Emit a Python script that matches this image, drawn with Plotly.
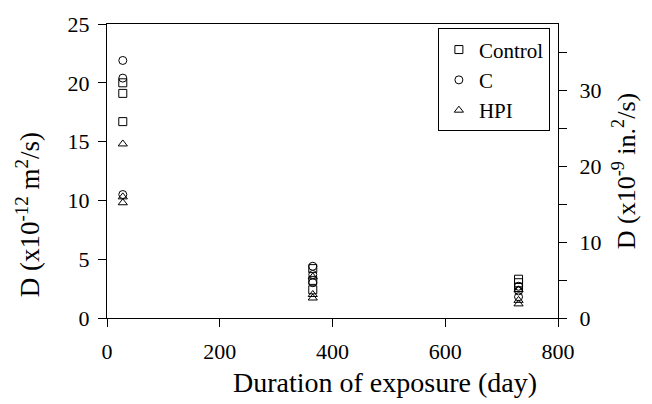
import plotly.graph_objects as go

# Data (D in x10^-12 m^2/s)
days_control = [28, 28, 28, 365, 365, 365, 730, 730, 730]
d_control = [20.0, 19.1, 16.7, 4.2, 3.2, 2.4, 3.3, 3.0, 2.6]
days_c = [28, 28, 28, 365, 365, 365, 730, 730, 730]
d_c = [21.9, 20.4, 10.5, 4.4, 3.7, 3.0, 2.7, 2.3, 1.8]
days_hpi = [28, 28, 28, 365, 365, 365, 730, 730, 730]
d_hpi = [14.8, 10.3, 9.8, 3.5, 2.0, 1.7, 2.4, 1.5, 1.2]

x_ticks = [0, 200, 400, 600, 800]
y_ticks = [0, 5, 10, 15, 20, 25]
y2_ticks = [0, 5, 10, 15, 20, 25, 30, 35]
y2_labels = ["0", "", "10", "", "20", "", "30", ""]

FONT = "Liberation Serif, Times New Roman, serif"
TICK = 22
TITLE = 27

fig = go.Figure()
series = [
    ("Control", days_control, d_control, "square-open"),
    ("C", days_c, d_c, "circle-open"),
    ("HPI", days_hpi, d_hpi, "triangle-up-open"),
]
for name, xs, ys, sym in series:
    fig.add_trace(go.Scatter(
        x=xs, y=ys, mode="markers", name=name,
        marker=dict(symbol=sym, size=8, color="black", line=dict(width=1, color="black")),
    ))

# invisible trace to activate the secondary axis
fig.add_trace(go.Scatter(x=[0], y=[0], yaxis="y2", mode="markers",
                         marker=dict(opacity=0), showlegend=False, hoverinfo="skip"))

axis_common = dict(showline=True, linecolor="black", linewidth=1, ticks="outside",
                   ticklen=8, tickcolor="black", showgrid=False, zeroline=False,
                   tickfont=dict(family=FONT, size=TICK, color="black"))

fig.update_layout(
    width=652, height=404,
    margin=dict(l=107, r=94, t=18, b=86),
    plot_bgcolor="white", paper_bgcolor="white",
    font=dict(family=FONT, size=TICK, color="black"),
    xaxis=dict(range=[0, 800], tickvals=x_ticks, mirror=True, ticklabelstandoff=6,
               **axis_common),
    yaxis=dict(range=[0, 25], tickvals=y_ticks, ticklabelstandoff=4,
               **axis_common),
    yaxis2=dict(range=[0, 25 * 1.55], overlaying="y", side="right", anchor="x",
                tickvals=y2_ticks, ticktext=y2_labels, ticklabelstandoff=8,
                title=dict(text="D (x10<sup>-9</sup> in.<sup>2</sup>/s)", font=dict(family=FONT, size=26), standoff=16),
                **axis_common),
    legend=dict(x=0.982, y=0.985, xanchor="right", yanchor="top",
                bgcolor="white", bordercolor="black", borderwidth=1,
                font=dict(family=FONT, size=21), itemwidth=30, tracegroupgap=0),
    showlegend=True,
    annotations=[
        dict(text="Duration of exposure (day)", xref="paper", yref="paper",
             x=0.616, y=-0.22, xanchor="center", yanchor="middle", showarrow=False,
             font=dict(family=FONT, size=28, color="black")),
        dict(text="D (x10<sup>-12</sup> m<sup>2</sup>/s)", xref="paper", yref="paper",
             x=-0.175, y=0.35, xanchor="center", yanchor="middle", showarrow=False,
             textangle=-90, font=dict(family=FONT, size=TITLE, color="black")),
    ],
)

fig.write_html("out.html")
